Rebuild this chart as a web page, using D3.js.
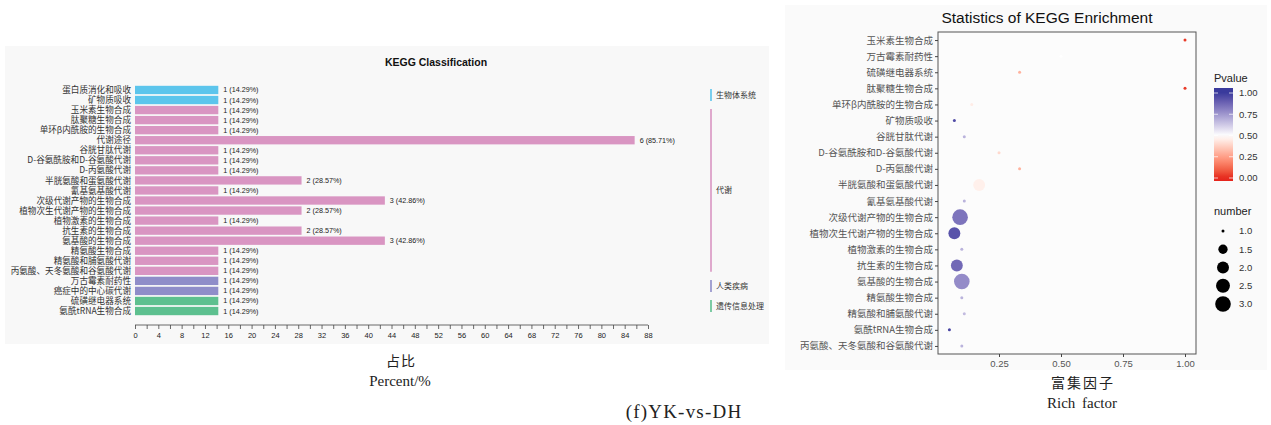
<!DOCTYPE html>
<html><head><meta charset="utf-8">
<script src="https://cdn.jsdelivr.net/npm/d3@7"></script>
<style>
html,body{margin:0;padding:0;background:#fff;}
svg{display:block;}
</style></head>
<body>
<svg id="c" width="1271" height="425"></svg>
<script>
// ---------- Left chart data ----------
const leftCategories = ["蛋白质消化和吸收","矿物质吸收","玉米素生物合成","肽聚糖生物合成","单环β内酰胺的生物合成","代谢途径","谷胱甘肽代谢","D-谷氨酰胺和D-谷氨酸代谢","D-丙氨酸代谢","半胱氨酸和蛋氨酸代谢","氰基氨基酸代谢","次级代谢产物的生物合成","植物次生代谢产物的生物合成","植物激素的生物合成","抗生素的生物合成","氨基酸的生物合成","精氨酸生物合成","精氨酸和脯氨酸代谢","丙氨酸、天冬氨酸和谷氨酸代谢","万古霉素耐药性","癌症中的中心碳代谢","硫磺继电器系统","氨酰tRNA生物合成"];
const leftCounts = [1,1,1,1,1,6,1,1,1,2,1,3,2,1,2,3,1,1,1,1,1,1,1];
const leftPercents = [14.29,14.29,14.29,14.29,14.29,85.71,14.29,14.29,14.29,28.57,14.29,42.86,28.57,14.29,28.57,42.86,14.29,14.29,14.29,14.29,14.29,14.29,14.29];
const leftGroups = ["生物体系统","生物体系统","代谢","代谢","代谢","代谢","代谢","代谢","代谢","代谢","代谢","代谢","代谢","代谢","代谢","代谢","代谢","代谢","代谢","人类疾病","人类疾病","遗传信息处理","遗传信息处理"];
const groupNames = ["生物体系统","代谢","人类疾病","遗传信息处理"];
const groupColors = ["#5cc5ec","#d995c2","#8f8dc9","#5dc08f"];
const leftTicks = d3.range(0, 89, 4);

// ---------- Right chart data ----------
const rightTerms = ["玉米素生物合成","万古霉素耐药性","硫磺继电器系统","肽聚糖生物合成","单环β内酰胺的生物合成","矿物质吸收","谷胱甘肽代谢","D-谷氨酰胺和D-谷氨酸代谢","D-丙氨酸代谢","半胱氨酸和蛋氨酸代谢","氰基氨基酸代谢","次级代谢产物的生物合成","植物次生代谢产物的生物合成","植物激素的生物合成","抗生素的生物合成","氨基酸的生物合成","精氨酸生物合成","精氨酸和脯氨酸代谢","氨酰tRNA生物合成","丙氨酸、天冬氨酸和谷氨酸代谢"];
const richFactor = [1.0,0.5,0.333,1.0,0.14,0.07,0.11,0.25,0.333,0.17,0.11,0.093,0.07,0.10,0.08,0.10,0.10,0.11,0.05,0.10];
const pValue = [0.03,0.5,0.3,0.03,0.45,0.95,0.68,0.4,0.3,0.46,0.68,0.84,0.93,0.68,0.87,0.78,0.68,0.66,0.97,0.68];
const geneNumber = [1,1,1,1,1,1,1,1,1,2,1,3,2,1,2,3,1,1,1,1];
const richTicks = [0.25,0.5,0.75,1.0];
const pTicks = [0,0.25,0.5,0.75,1.0];
const numberTicks = [1.0,1.5,2.0,2.5,3.0];

const svg = d3.select("#c");
const SANS = "'Liberation Sans', Arial, 'Noto Sans CJK SC', sans-serif";
const SERIF = "'Liberation Serif', 'Times New Roman', 'Noto Sans CJK SC', serif";
const CJK = "'Noto Sans CJK SC', 'Liberation Sans', sans-serif";

// ================= LEFT CHART =================
svg.append("rect").attr("x",5).attr("y",46).attr("width",764).attr("height",298).attr("fill","#f8f8f8");
svg.append("text").attr("x",436).attr("y",66).attr("text-anchor","middle")
  .attr("font-family",SANS).attr("font-weight","bold").attr("font-size",10.5).attr("fill","#111")
  .text("KEGG Classification");

const xL = d3.scaleLinear().domain([0,88]).range([135,648]);
const yL = d3.scaleBand().domain(leftCategories).range([85,316]).paddingInner(0.17).paddingOuter(0.08);
const gColor = d3.scaleOrdinal().domain(groupNames).range(groupColors);

const gL = svg.append("g");
gL.selectAll("rect.bar").data(leftCategories).join("rect")
  .attr("class","bar")
  .attr("x",xL(0)).attr("y",d=>yL(d))
  .attr("width",(d,i)=>xL(leftPercents[i])-xL(0))
  .attr("height",yL.bandwidth())
  .attr("fill",(d,i)=>gColor(leftGroups[i]));
gL.selectAll("text.val").data(leftCategories).join("text")
  .attr("class","val")
  .attr("x",(d,i)=>xL(leftPercents[i])+5)
  .attr("y",d=>yL(d)+yL.bandwidth()/2)
  .attr("dy","0.35em").attr("font-family",SANS).attr("font-size",7.2).attr("fill","#222")
  .text((d,i)=>`${leftCounts[i]} (${leftPercents[i].toFixed(2)}%)`);
gL.selectAll("text.cat").data(leftCategories).join("text")
  .attr("class","cat")
  .attr("x",131).attr("y",d=>yL(d)+yL.bandwidth()/2)
  .attr("dy","0.36em").attr("text-anchor","end")
  .attr("font-family",CJK).attr("font-size",8.6).attr("fill","#333")
  .text(d=>d);

// x axis
const axL = d3.axisBottom(xL).tickValues(d3.range(0,89,2)).tickSize(4)
  .tickFormat(d => leftTicks.includes(d) ? d : "");
const gax = svg.append("g").attr("transform","translate(0,325)").call(axL);
gax.select(".domain").attr("stroke","#444").attr("stroke-width",0.8).attr("d","M"+xL(0)+",0H"+xL(88));
gax.selectAll(".tick line").attr("stroke","#444").attr("stroke-width",0.8).attr("y1",0).attr("y2",4);
gax.selectAll(".tick text").attr("font-family",SANS).attr("font-size",7.5).attr("fill","#222").attr("y",8);

svg.append("text").attr("x",401).attr("y",366).attr("text-anchor","middle")
  .attr("font-family",CJK).attr("font-size",14).attr("letter-spacing",1).attr("fill","#222").text("占比");
svg.append("text").attr("x",400).attr("y",386).attr("text-anchor","middle")
  .attr("font-family",SERIF).attr("font-size",15).attr("fill","#222").text("Percent/%");

// group brackets
groupNames.forEach((g,gi)=>{
  const rows = leftCategories.filter((c,i)=>leftGroups[i]===g);
  const y0 = yL(rows[0]) + yL.bandwidth()/2 - 1;
  const y1 = yL(rows[rows.length-1]) + yL.bandwidth()/2 + 1;
  svg.append("line").attr("x1",711).attr("x2",711).attr("y1",y0).attr("y2",y1)
    .attr("stroke",groupColors[gi]).attr("stroke-width",1.6);
  svg.append("text").attr("x",716).attr("y",(y0+y1)/2).attr("dy","0.36em")
    .attr("font-family",CJK).attr("font-size",8).attr("fill","#333").text(g);
});

svg.append("text").attr("x",684).attr("y",418).attr("text-anchor","middle")
  .attr("font-family",SERIF).attr("font-size",19).attr("letter-spacing",1.2).attr("fill","#222").text("(f)YK-vs-DH");

// ================= RIGHT CHART =================
svg.append("rect").attr("x",785).attr("y",5).attr("width",482).attr("height",365).attr("fill","#fafafa");
svg.append("text").attr("x",1047).attr("y",23).attr("text-anchor","middle")
  .attr("font-family",SANS).attr("font-size",15.5).attr("fill","#111").text("Statistics of KEGG Enrichment");

const px0=938, px1=1196, py0=32, py1=354;
const xR = d3.scaleLinear().domain([0.0513-0.0473,0.997+0.0473]).range([px0,px1]);
const yR = d3.scalePoint().domain(rightTerms).range([py0,py1]).padding(0.5);
const colR = d3.scaleLinear().domain([0,0.5,1]).range(["#e5231b","#ffffff","#3a3a9c"]).interpolate(d3.interpolateLab);
const rR = v => 1.5*(1+4.2*Math.sqrt((v-1)/2));

svg.append("rect").attr("x",px0).attr("y",py0).attr("width",px1-px0).attr("height",py1-py0)
  .attr("fill","#fcfcfc").attr("stroke","#555").attr("stroke-width",1);

const order = d3.range(rightTerms.length);
svg.append("g").selectAll("circle").data(order).join("circle")
  .attr("cx",i=>xR(richFactor[i])).attr("cy",i=>yR(rightTerms[i]))
  .attr("r",i=>rR(geneNumber[i])).attr("fill",i=>colR(pValue[i]));

const gyR = svg.append("g").attr("transform",`translate(${px0},0)`).call(d3.axisLeft(yR).tickSize(3).tickPadding(2));
gyR.select(".domain").remove();
gyR.selectAll(".tick line").attr("stroke","#444");
gyR.selectAll(".tick text").attr("font-family",CJK).attr("font-size",9.5).attr("fill","#555");

const gxR = svg.append("g").attr("transform",`translate(0,${py1})`).call(d3.axisBottom(xR).tickValues(richTicks).tickSize(3).tickFormat(d3.format(".2f")));
gxR.select(".domain").remove();
gxR.selectAll(".tick line").attr("stroke","#444");
gxR.selectAll(".tick text").attr("font-family",SANS).attr("font-size",9.5).attr("fill","#555");

svg.append("text").attr("x",1083).attr("y",388).attr("text-anchor","middle")
  .attr("font-family",CJK).attr("font-size",14).attr("letter-spacing",2).attr("fill","#222").text("富集因子");
svg.append("text").attr("x",1082).attr("y",408).attr("text-anchor","middle")
  .attr("font-family",SERIF).attr("font-size",15).attr("fill","#222").attr("word-spacing",3).text("Rich factor");

// Pvalue legend
svg.append("text").attr("x",1214).attr("y",82).attr("font-family",SANS).attr("font-size",11).attr("fill","#222").text("Pvalue");
const yCB = d3.scaleLinear().domain([0,1]).range([178,93]);
const defs = svg.append("defs");
const grad = defs.append("linearGradient").attr("id","pg").attr("x1",0).attr("x2",0).attr("y1",1).attr("y2",0);
const cbTop = 88, cbBot = 181;
d3.range(0,1.0001,0.05).forEach(t=>{
  const v = yCB.invert(cbBot + (cbTop-cbBot)*t);
  grad.append("stop").attr("offset",t).attr("stop-color",colR(Math.max(0,Math.min(1,v))));
});
svg.append("rect").attr("x",1214).attr("y",cbTop).attr("width",19).attr("height",cbBot-cbTop).attr("fill","url(#pg)");
pTicks.forEach(v=>{
  const y = yCB(v);
  svg.append("line").attr("x1",1214).attr("x2",1218).attr("y1",y).attr("y2",y).attr("stroke","#fff").attr("stroke-opacity",0.7);
  svg.append("line").attr("x1",1229).attr("x2",1233).attr("y1",y).attr("y2",y).attr("stroke","#fff").attr("stroke-opacity",0.7);
  svg.append("text").attr("x",1239).attr("y",y).attr("dy","0.35em").attr("font-family",SANS).attr("font-size",9.5).attr("fill","#333").text(d3.format(".2f")(v));
});

// number legend
svg.append("text").attr("x",1214).attr("y",215).attr("font-family",SANS).attr("font-size",11).attr("fill","#222").text("number");
const yNum = d3.scalePoint().domain(numberTicks).range([231,304]);
numberTicks.forEach(v=>{
  svg.append("circle").attr("cx",1223).attr("cy",yNum(v)).attr("r",rR(v)).attr("fill","#000");
  svg.append("text").attr("x",1239).attr("y",yNum(v)).attr("dy","0.35em").attr("font-family",SANS).attr("font-size",9.5).attr("fill","#333").text(d3.format(".1f")(v));
});
</script>
</body></html>
